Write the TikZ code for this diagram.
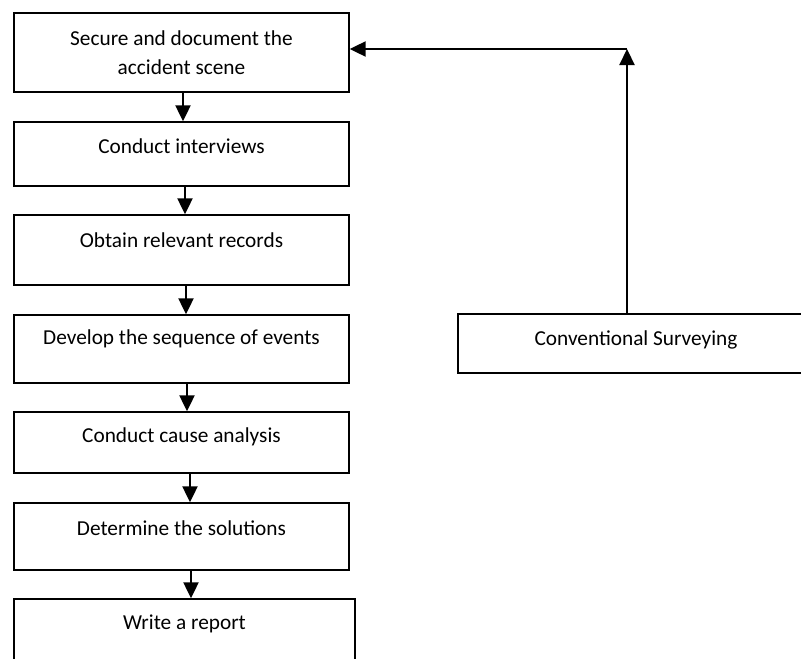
\documentclass[tikz,border=0pt]{standalone}
\usepackage{fontspec}
\setmainfont{Carlito}
\usetikzlibrary{arrows.meta}
\begin{document}
\begin{tikzpicture}[x=1pt,y=-1pt,
  box/.style={draw=black,line width=1.4pt,minimum width=335pt,inner sep=0pt,fill=white},
  txt/.style={inner sep=0pt,align=center,font=\fontsize{21.3}{29}\selectfont},
  arr/.style={line width=2.2pt,-{Triangle[length=16pt,width=15pt]}}]
\useasboundingbox (0,0) rectangle (801,659);
\clip (0,0) rectangle (801,659);
\node[box,minimum height=79pt] (b1) at (181.5,52.5) {};
\node[box,minimum height=64pt] (b2) at (181.5,154) {};
\node[box,minimum height=70pt] (b3) at (181.5,250) {};
\node[box,minimum height=68pt] (b4) at (181.5,349) {};
\node[box,minimum height=61pt] (b5) at (181.5,442.5) {};
\node[box,minimum height=67pt] (b6) at (181.5,536.5) {};
\node[box,minimum height=71pt,minimum width=341pt] (b7) at (184.5,634.5) {};
\node[box,minimum height=59pt,minimum width=356pt] (bR) at (636,343.5) {};
\node[txt] (t1) at (181.5,52.5) {Secure and document the\\accident scene};
\node[txt] (t2) at (181.5,146) {Conduct interviews};
\node[txt] (t3) at (181.5,240) {Obtain relevant records};
\node[txt] (t4) at (181.5,339) {Develop the sequence of events};
\node[txt] (t5) at (181.5,437) {Conduct cause analysis};
\node[txt] (t6) at (181.5,528) {Determine the solutions};
\node[txt] (t7) at (184.5,624) {Write a report};
\node[txt] (tR) at (636,340) {Conventional Surveying};
\coordinate (x1) at (183,0);
\coordinate (x2) at (185,0);
\coordinate (x3) at (186,0);
\coordinate (x4) at (187,0);
\coordinate (x5) at (190,0);
\coordinate (x6) at (191,0);
\draw[arr] (b1.south -| x1) -- (b2.north -| x1);
\draw[arr] (b2.south -| x2) -- (b3.north -| x2);
\draw[arr] (b3.south -| x3) -- (b4.north -| x3);
\draw[arr] (b4.south -| x4) -- (b5.north -| x4);
\draw[arr] (b5.south -| x5) -- (b6.north -| x5);
\draw[arr] (b6.south -| x6) -- (b7.north -| x6);
\coordinate (c) at (627,49);
\draw[arr] (bR.north -| c) -- (c);
\draw[arr] (c) -- (b1.east |- c);
\end{tikzpicture}
\end{document}
